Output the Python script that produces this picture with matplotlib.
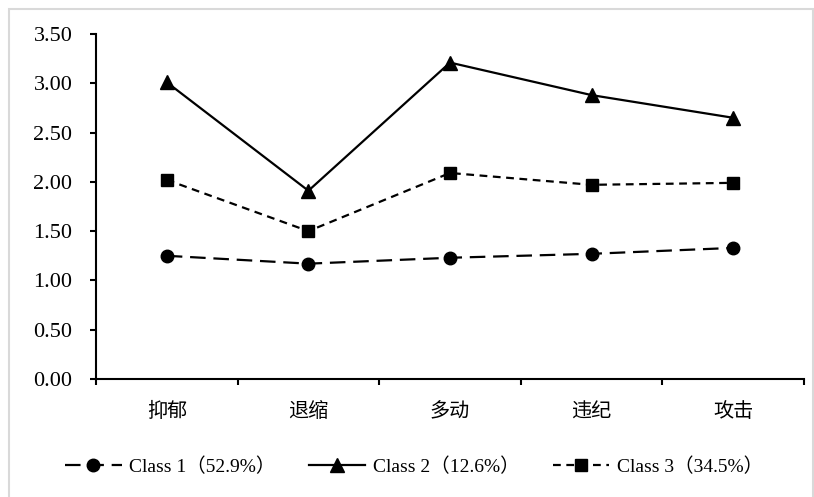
import matplotlib.pyplot as plt
from matplotlib.patches import Rectangle

# data
categories = ['抑郁', '退缩', '多动', '违纪', '攻击']
class1 = [1.25, 1.17, 1.23, 1.27, 1.33]
class2 = [3.01, 1.91, 3.21, 2.88, 2.65]
class3 = [2.02, 1.50, 2.09, 1.97, 1.99]
labels = ['Class 1（52.9%）', 'Class 2（12.6%）', 'Class 3（34.5%）']
yticks = [0.0, 0.5, 1.0, 1.5, 2.0, 2.5, 3.0, 3.5]

fonts = ['Liberation Serif', 'Noto Sans CJK SC', 'DejaVu Sans']
plt.rcParams['font.family'] = fonts

fig = plt.figure(figsize=(8.14, 4.97), dpi=100)
ax = fig.add_axes([96/814, 1-379/497, 708/814, 345/497])

# grey chart frame like excel
fig.patches.append(Rectangle((9/814, -0.01), 804/814, 1-9/497+0.01,
                             transform=fig.transFigure, fill=False,
                             edgecolor='#d9d9d9', linewidth=1.5))

x = list(range(len(categories)))
ax.plot(x, class1, color='black', lw=1.6, dashes=(7, 3.5), marker='o', ms=9,
        label=labels[0])
ax.plot(x, class2, color='black', lw=1.6, ls='-', marker='^', ms=10,
        label=labels[1])
ax.plot(x, class3, color='black', lw=1.6, dashes=(3.5, 2.5), marker='s', ms=9,
        label=labels[2])

ax.set_xlim(-0.5, 4.5)
ax.set_ylim(0, 3.5)
ax.set_yticks(yticks)
ax.set_yticklabels(['%.2f' % v for v in yticks], fontsize=16)
ax.set_xticks([i - 0.5 for i in range(len(categories) + 1)])
ax.set_xticklabels([])
ax.set_xticks(x, minor=True)
ax.set_xticklabels(categories, minor=True, fontsize=14.5,
                   family='Noto Sans CJK SC')
ax.tick_params(axis='x', which='minor', length=0, pad=16)
ax.tick_params(axis='x', which='major', length=4, width=1.5, direction='out')
ax.tick_params(axis='y', length=4, width=1.5, direction='out', pad=13)

for s in ['top', 'right']:
    ax.spines[s].set_visible(False)
for s in ['left', 'bottom']:
    ax.spines[s].set_linewidth(1.5)

fig.legend(loc='center', bbox_to_anchor=(414/814, 1-467/497), ncol=3,
           frameon=False, fontsize=14, handlelength=2.9, columnspacing=1.7,
           handletextpad=0.4)

fig.savefig('out.png', dpi=100)
